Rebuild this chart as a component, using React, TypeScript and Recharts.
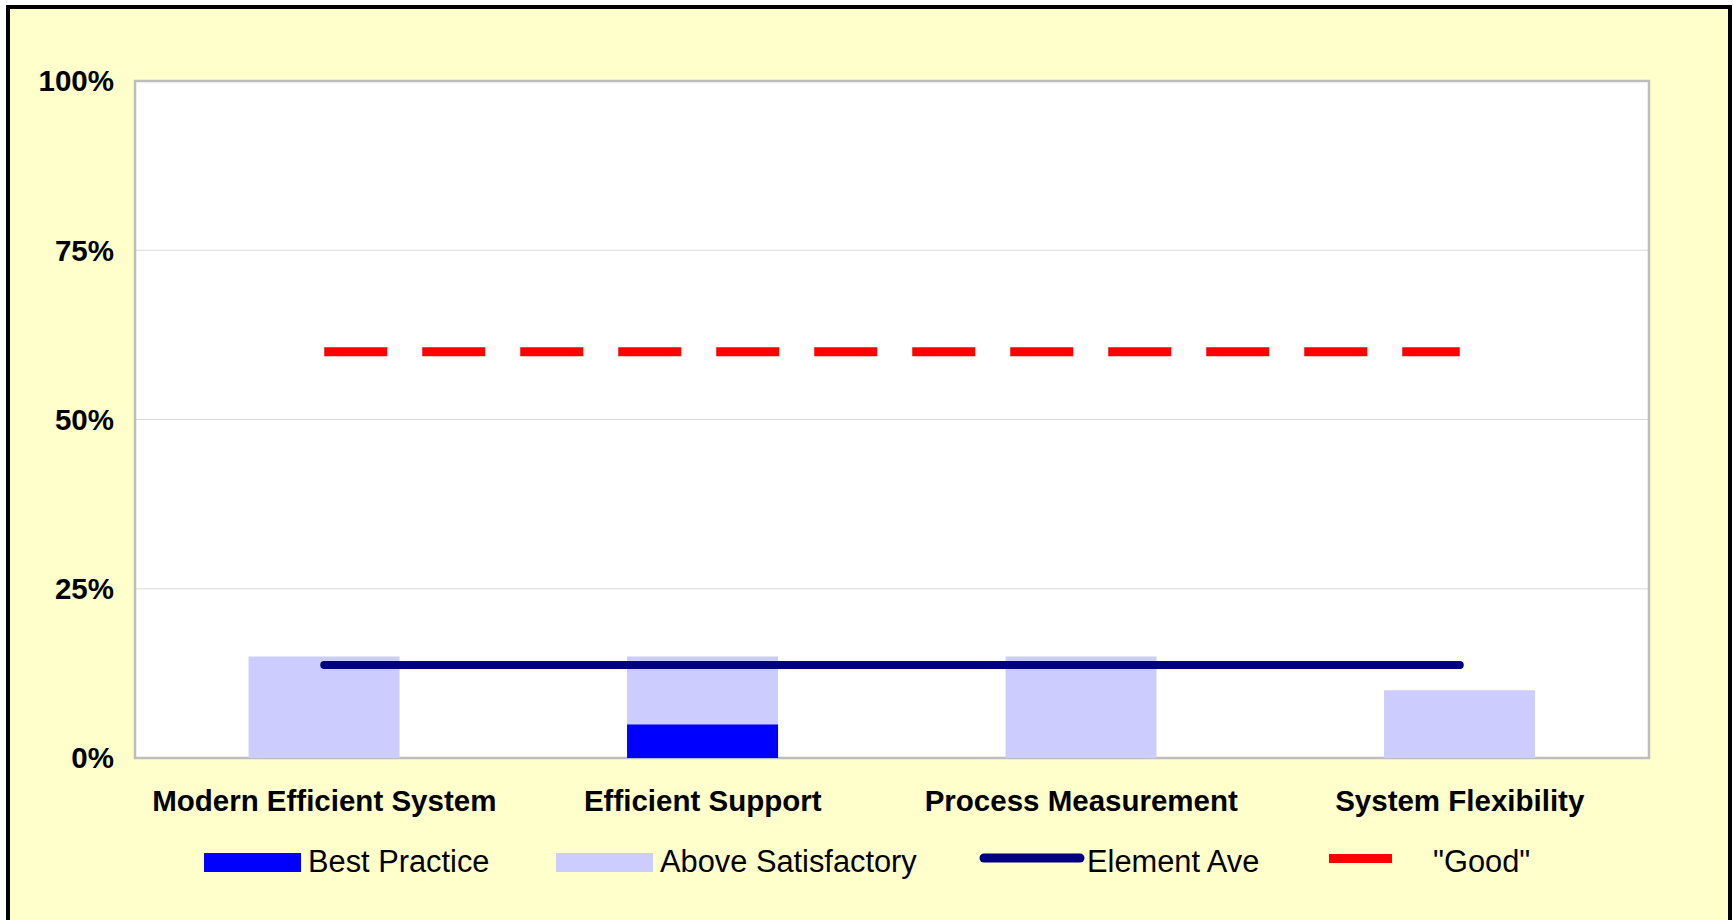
import { ComposedChart, Bar, Line, XAxis, YAxis, CartesianGrid, ReferenceArea } from "recharts";

const CATEGORIES = ["Modern Efficient System", "Efficient Support", "Process Measurement", "System Flexibility"];
const BEST_PRACTICE = [0, 5, 0, 0];
const ABOVE_SATISFACTORY = [15, 10, 15, 10];
const ELEMENT_AVE = [13.75, 13.75, 13.75, 13.75];
const GOOD = [60, 60, 60, 60];
const Y_TICKS = [0, 25, 50, 75, 100];

const COLORS = { best: "#0000FF", above: "#CCCCFF", ave: "#000080", good: "#FF0000" };
const FONT = "'Liberation Sans', Arial, sans-serif";

const data = CATEGORIES.map((name, i) => ({
  name,
  best: BEST_PRACTICE[i],
  above: ABOVE_SATISFACTORY[i],
  ave: ELEMENT_AVE[i],
  good: GOOD[i],
}));

function LegendRow() {
  const txt = { fontFamily: FONT, fontSize: 30.8, fill: "#000" };
  return (
    <svg width={1733} height={920} style={{ position: "absolute", left: 0, top: 0, pointerEvents: "none" }}>
      <rect x={204} y={853} width={97} height={19} fill={COLORS.best} />
      <text x={308} y={872} {...txt}>Best Practice</text>
      <rect x={556} y={853} width={97} height={19} fill={COLORS.above} />
      <text x={660} y={872} {...txt}>Above Satisfactory</text>
      <line x1={984} y1={858} x2={1080} y2={858} stroke={COLORS.ave} strokeWidth={9} strokeLinecap="round" />
      <text x={1087} y={872} {...txt}>Element Ave</text>
      <rect x={1329} y={854} width={63} height={9} fill={COLORS.good} />
      <text x={1433} y={872} {...txt}>"Good"</text>
    </svg>
  );
}

export default function App() {
  return (
    <div style={{ position: "fixed", left: 0, top: 0, width: 1733, height: 920, overflow: "hidden", background: "#fff" }}>
      <div
        style={{
          position: "absolute",
          left: 6,
          top: 5,
          width: 1726,
          height: 1000,
          boxSizing: "border-box",
          border: "4px solid #000",
          background: "#FFFFCC",
        }}
      />
      <div style={{ position: "absolute", left: 0, top: 0, fontFamily: FONT }}>
        <ComposedChart width={1733} height={920} data={data} margin={{ top: 81, right: 84, left: 0, bottom: 102 }} barCategoryGap="30%">
          <CartesianGrid fill="#fff" fillOpacity={1} stroke="#d9d9d9" vertical={false} horizontalValues={[25, 50, 75]} />
          <XAxis
            dataKey="name"
            height={60}
            axisLine={false}
            tickLine={false}
            tickSize={0}
            tickMargin={32}
            interval={0}
            tick={{ fontSize: 29.5, fontWeight: 700, fill: "#000", fontFamily: FONT }}
          />
          <YAxis
            width={135}
            domain={[0, 100]}
            ticks={Y_TICKS}
            tickFormatter={(v) => `${v}%`}
            axisLine={false}
            tickLine={false}
            tickSize={0}
            tickMargin={21}
            tick={{ fontSize: 29.5, fontWeight: 700, fill: "#000", fontFamily: FONT }}
          />
          <Bar dataKey="best" name="Best Practice" stackId="s" fill={COLORS.best} isAnimationActive={false} />
          <Bar dataKey="above" name="Above Satisfactory" stackId="s" fill={COLORS.above} isAnimationActive={false} />
          <Line
            type="linear"
            dataKey="ave"
            name="Element Ave"
            stroke={COLORS.ave}
            strokeWidth={8}
            strokeLinecap="round"
            dot={false}
            activeDot={false}
            isAnimationActive={false}
          />
          <Line
            type="linear"
            dataKey="good"
            name='"Good"'
            stroke={COLORS.good}
            strokeWidth={9}
            strokeDasharray="63 35"
            dot={false}
            activeDot={false}
            isAnimationActive={false}
          />
          <ReferenceArea y1={0} y2={100} fill="none" stroke="#bdbdbd" strokeWidth={2.5} ifOverflow="visible" />
        </ComposedChart>
      </div>
      <LegendRow />
    </div>
  );
}
